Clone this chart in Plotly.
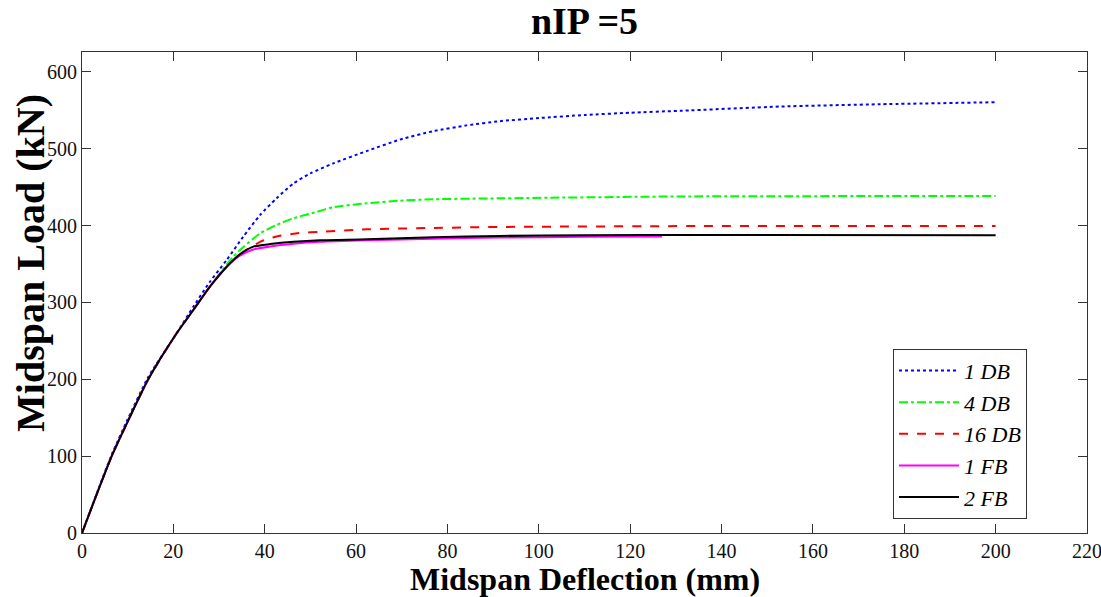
import plotly.graph_objects as go

# ---- data ----
db1_x = [0, 3, 6.5, 10, 14.5, 20.4, 24.4, 28, 31.7, 35.3, 39, 42.6, 46.3, 50, 55, 62.3, 69.6, 76.9, 84.2, 91.5, 100, 110, 120, 131, 152.8, 174.7, 200]
db1_y = [0, 48, 102, 148, 203, 257, 294.8, 327, 355.5, 385.7, 414, 435.6, 455, 468, 481, 497, 512, 523, 530.5, 536, 540, 544, 547, 549.5, 555, 558, 560.6]

db4_x = [0, 3, 6.5, 10, 14.5, 20.5, 24.4, 28, 33.1, 35.4, 39, 42.6, 46.3, 51.4, 55, 62.3, 69.6, 76.9, 91.5, 131, 200]
db4_y = [0, 47, 100, 145, 200, 258, 290.5, 320.8, 359.7, 372.7, 390, 401, 409.6, 418, 424, 429, 432.5, 434.3, 435.6, 438, 438.6]

db16_x = [0, 3, 6.5, 10, 14.5, 20.5, 24.4, 28, 32.4, 36, 39, 42.6, 47.7, 52.1, 62.3, 76.9, 91.5, 135, 200]
db16_y = [0, 47, 100, 145, 200, 258, 290.5, 320.8, 351, 368.4, 379, 386, 390.5, 392, 395.3, 397, 398.3, 399.5, 399.6]

fb1_x = [0, 3, 6.5, 10, 14.5, 20.5, 24.4, 28, 32.4, 34.6, 37.5, 41.2, 46.3, 52.1, 62.3, 76.9, 91.5, 110, 127]
fb1_y = [0, 47, 100, 145, 200, 258, 290.5, 320.8, 351, 361, 369, 373, 376.5, 379, 381, 383, 384.5, 385.5, 386]

fb2_x = [0, 3, 6.5, 10, 14.5, 20.5, 24.4, 28, 32.4, 34.6, 37.5, 41.2, 46.3, 52.1, 62.3, 76.9, 91.5, 110, 135, 200]
fb2_y = [0, 47, 100, 145, 200, 258, 290.5, 320.8, 351, 363, 372.7, 376, 379, 381, 382.3, 385, 386.6, 387.5, 387.8, 387.5]

x_ticks = list(range(0, 221, 20))
y_ticks = list(range(0, 601, 100))

SERIF = "Liberation Serif, Times New Roman, serif"

fig = go.Figure()
fig.add_trace(go.Scatter(x=db1_x, y=db1_y, mode="lines", name="1 DB",
                         line=dict(color="#0000FF", width=2, dash="dot", shape="spline", smoothing=0.6)))
fig.add_trace(go.Scatter(x=db4_x, y=db4_y, mode="lines", name="4 DB",
                         line=dict(color="#00FF00", width=2, dash="dashdot", shape="spline", smoothing=0.6)))
fig.add_trace(go.Scatter(x=db16_x, y=db16_y, mode="lines", name="16 DB",
                         line=dict(color="#FF0000", width=2, dash="dash", shape="spline", smoothing=0.6)))
fig.add_trace(go.Scatter(x=fb1_x, y=fb1_y, mode="lines", name="1 FB",
                         line=dict(color="#FF00FF", width=2, shape="spline", smoothing=0.6)))
fig.add_trace(go.Scatter(x=fb2_x, y=fb2_y, mode="lines", name="2 FB",
                         line=dict(color="#000000", width=2, shape="spline", smoothing=0.6)))

axis_common = dict(
    showgrid=False, zeroline=False, showline=True, mirror="ticks",
    linecolor="#333333", linewidth=1, ticks="inside", ticklen=9,
    tickcolor="#333333", tickfont=dict(family=SERIF, size=20, color="#111111"),
    ticklabeloverflow="allow", automargin=False,
)

fig.update_layout(
    width=1101, height=597,
    margin=dict(l=82, r=14, t=52, b=64),
    paper_bgcolor="white", plot_bgcolor="white",
    title=dict(text="<b>nIP =5</b>", x=(82 + 1087) / 2 / 1101, xanchor="center",
               y=0.965, yanchor="middle",
               font=dict(family=SERIF, size=38, color="black")),
    xaxis=dict(range=[0, 220], tickvals=x_ticks, ticktext=[str(v) for v in x_ticks],
               **axis_common),
    yaxis=dict(range=[0, 626], tickvals=y_ticks, ticktext=[str(v) for v in y_ticks],
               **axis_common),
    legend=dict(x=0.807, y=0.383, xanchor="left", yanchor="top",
                bgcolor="white", bordercolor="#333333", borderwidth=1,
                font=dict(family=SERIF, size=22, color="black", style="italic"),
                tracegroupgap=0, itemwidth=60),
    showlegend=True,
    annotations=[
        dict(text="<b>Midspan Load (kN)</b>", textangle=-90,
             xref="paper", yref="paper", x=-0.052, y=0.561,
             xanchor="center", yanchor="middle", showarrow=False,
             font=dict(family=SERIF, size=40, color="black")),
        dict(text="<b>Midspan Deflection (mm)</b>",
             xref="paper", yref="paper", x=0.5, y=-0.1356,
             xanchor="center", yanchor="bottom", showarrow=False, borderpad=0,
             font=dict(family=SERIF, size=32, color="black")),
    ],
)

fig.write_html("out.html")
